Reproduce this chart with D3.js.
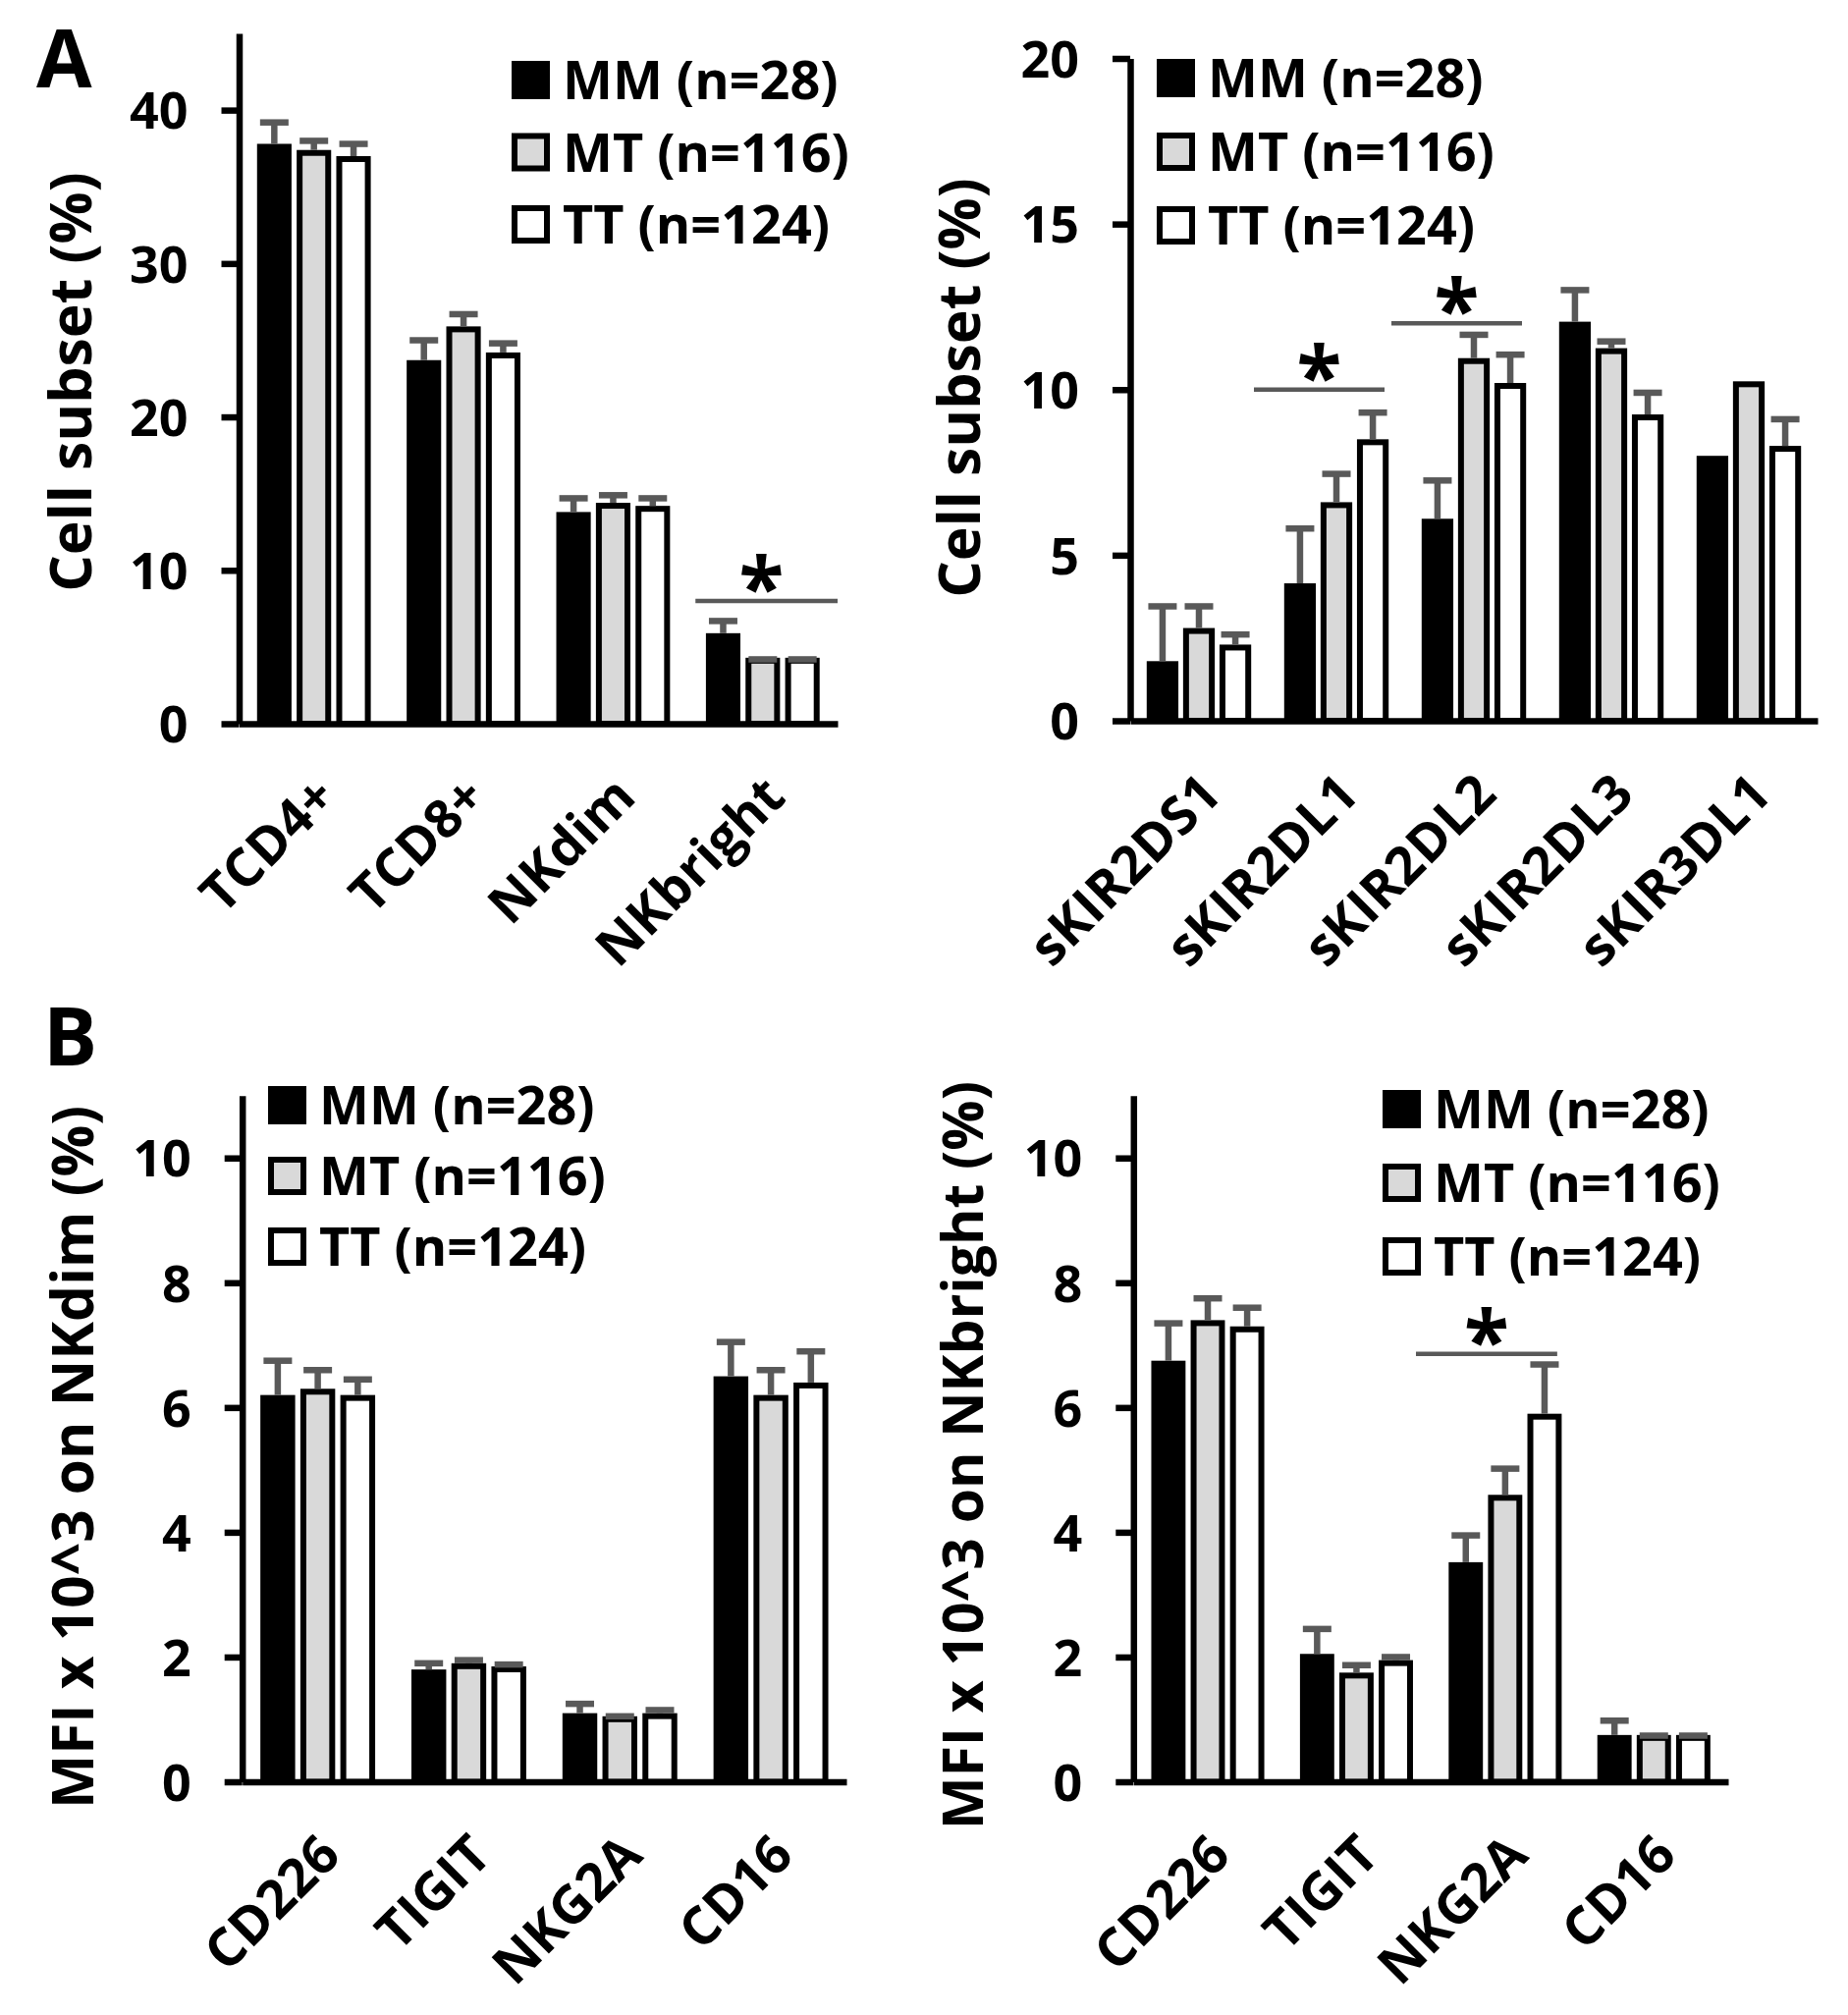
<!DOCTYPE html>
<html>
<head>
<meta charset="utf-8">
<script src="https://cdn.jsdelivr.net/npm/d3@7"></script>
<style>
  body { margin: 0; background: #fff; }
  svg { display: block; font-family: "Open Sans", "Noto Sans", sans-serif; font-weight: bold; }
</style>
</head>
<body>
<svg id="fig" width="1882" height="2052"></svg>
<script>
// genotype groups (legend)
const groups = ["MM (n=28)", "MT (n=116)", "TT (n=124)"];
const groupFill = ["#000000", "#d9d9d9", "#ffffff"];

// A left: cell subsets
const subsetCats = ["TCD4+", "TCD8+", "NKdim", "NKbright"];
const subsetMM = [37.8, 23.7, 13.8, 5.9];
const subsetMT = [37.4, 25.9, 14.4, 4.3];
const subsetTT = [37.0, 24.2, 14.2, 4.3];
const subsetMMErr = [1.6, 1.5, 1.1, 1.0];
const subsetMTErr = [0.8, 1.0, 0.7, 0.1];
const subsetTTErr = [1.0, 0.8, 0.7, 0.1];
const subsetTicks = [0, 10, 20, 30, 40];

// A right: sKIR
const kirCats = ["sKIR2DS1", "sKIR2DL1", "sKIR2DL2", "sKIR2DL3", "sKIR3DL1"];
const kirMM = [1.8, 4.15, 6.1, 12.05, 8.0];
const kirMT = [2.8, 6.6, 10.95, 11.25, 10.25];
const kirTT = [2.3, 8.5, 10.2, 9.25, 8.3];
const kirMMErr = [1.75, 1.75, 1.25, 1.05, 0];
const kirMTErr = [0.75, 0.95, 0.8, 0.3, 0];
const kirTTErr = [0.4, 0.9, 0.95, 0.75, 0.9];
const kirTicks = [0, 5, 10, 15, 20];
const kirSigCats = ["sKIR2DL1", "sKIR2DL2"];
const kirSigLevels = [10.0, 12.0];

// B: receptors on NK cells
const receptorCats = ["CD226", "TIGIT", "NKG2A", "CD16"];
const mfiTicks = [0, 2, 4, 6, 8, 10];

const dimMM = [6.2, 1.8, 1.1, 6.5];
const dimMT = [6.3, 1.9, 1.05, 6.2];
const dimTT = [6.2, 1.85, 1.1, 6.4];
const dimMMErr = [0.6, 0.15, 0.2, 0.6];
const dimMTErr = [0.35, 0.1, 0.05, 0.45];
const dimTTErr = [0.3, 0.08, 0.1, 0.55];

const brightMM = [6.75, 2.05, 3.52, 0.75];
const brightMT = [7.4, 1.75, 4.6, 0.75];
const brightTT = [7.3, 1.95, 5.9, 0.75];
const brightMMErr = [0.65, 0.45, 0.48, 0.28];
const brightMTErr = [0.4, 0.17, 0.47, 0.04];
const brightTTErr = [0.35, 0.1, 0.84, 0.04];

const errColor = "#595959";

const svg = d3.select("#fig");
svg.append("rect").attr("width", 1882).attr("height", 2052).attr("fill", "#fff");

function drawPanel(cfg) {
  const g = svg.append("g");

  const y = d3.scaleLinear().domain(cfg.yDomain).range([cfg.y0, cfg.yTop]);
  const x = d3.scaleBand().domain(cfg.cats).range([cfg.x0, cfg.x1]);
  const span = x.bandwidth() * 0.76;
  const inner = d3.scaleBand().domain([0, 1, 2]).range([0, span]).paddingInner(0.13);
  const off = (x.bandwidth() - span) / 2;

  // bars
  cfg.series.forEach((vals, k) => {
    g.selectAll(null)
      .data(vals.map((v, i) => ({ cat: cfg.cats[i], v: v, e: cfg.errs[k][i] })))
      .enter()
      .append("rect")
      .attr("x", (d) => x(d.cat) + off + inner(k) + 3)
      .attr("width", inner.bandwidth() - 6)
      .attr("y", (d) => y(d.v) + 3)
      .attr("height", (d) => cfg.y0 - y(d.v) - 3)
      .attr("fill", groupFill[k])
      .attr("stroke", "#000")
      .attr("stroke-width", 6);
  });

  // error bars (upper only)
  cfg.series.forEach((vals, k) => {
    const data = vals
      .map((v, i) => ({ cat: cfg.cats[i], v: v, e: cfg.errs[k][i] }))
      .filter((d) => d.e > 0);
    const cx = (d) => x(d.cat) + off + inner(k) + inner.bandwidth() / 2;
    g.selectAll(null)
      .data(data)
      .enter()
      .append("line")
      .attr("x1", cx)
      .attr("x2", cx)
      .attr("y1", (d) => y(d.v))
      .attr("y2", (d) => y(d.v + d.e) + 3)
      .attr("stroke", errColor)
      .attr("stroke-width", 6.5);
    g.selectAll(null)
      .data(data)
      .enter()
      .append("line")
      .attr("x1", (d) => cx(d) - 14.5)
      .attr("x2", (d) => cx(d) + 14.5)
      .attr("y1", (d) => y(d.v + d.e) + 3.2)
      .attr("y2", (d) => y(d.v + d.e) + 3.2)
      .attr("stroke", errColor)
      .attr("stroke-width", 6.5);
  });

  // y axis
  const yAxis = g
    .append("g")
    .attr("transform", `translate(${cfg.x0},0)`)
    .call(d3.axisLeft(y).tickValues(cfg.ticks).tickSize(18).tickSizeOuter(0).tickPadding(34));
  yAxis.selectAll("path, line").attr("stroke", "#000").attr("stroke-width", 6.5);
  yAxis.selectAll("text")
    .attr("font-size", 52)
    .attr("font-family", "Open Sans")
    .attr("font-weight", "bold")
    .attr("fill", "#000")
    .attr("dy", "0.36em");

  // x axis
  const xAxis = g
    .append("g")
    .attr("transform", `translate(0,${cfg.y0})`)
    .call(d3.axisBottom(x).tickSize(0).tickSizeOuter(0).tickPadding(0));
  xAxis.select("path").attr("stroke", "#000").attr("stroke-width", 6.5);
  xAxis.selectAll("text")
    .attr("font-size", 54)
    .attr("font-family", "Open Sans")
    .attr("font-weight", "bold")
    .attr("fill", "#000")
    .attr("text-anchor", "end")
    .attr("y", 0)
    .attr("dy", "0.35em")
    .attr("transform", "translate(12,64) rotate(-45)");

  // y title
  g.append("text")
    .attr("transform", `translate(${cfg.titleX},${cfg.titleY}) rotate(-90)`)
    .attr("text-anchor", "middle")
    .attr("font-size", cfg.titleSize)
    .text(cfg.title);

  // legend
  groups.forEach((name, k) => {
    const top = cfg.legY + k * cfg.legDy;
    g.append("rect")
      .attr("x", cfg.legX + 3)
      .attr("y", top + 3)
      .attr("width", 33)
      .attr("height", 33)
      .attr("fill", groupFill[k])
      .attr("stroke", "#000")
      .attr("stroke-width", 6);
    g.append("text")
      .attr("x", cfg.legX + 52)
      .attr("y", top + 39)
      .attr("font-size", 54)
      .text(name);
  });

  // significance marks
  (cfg.sigCats || []).forEach((c, i) => {
    const cx = x(c) + x.bandwidth() / 2 + (cfg.sigShift || 0) * x.bandwidth();
    const ly = y(cfg.sigLevels[i]);
    g.append("line")
      .attr("x1", cx - 0.5 * x.bandwidth())
      .attr("x2", cx + 0.45 * x.bandwidth())
      .attr("y1", ly)
      .attr("y2", ly)
      .attr("stroke", errColor)
      .attr("stroke-width", 4.5);
    g.append("text")
      .attr("x", cx - (cfg.starBack || 0.025) * x.bandwidth())
      .attr("y", ly + 16)
      .attr("text-anchor", "middle")
      .attr("font-size", 84)
      .text("*");
  });

  if (cfg.letter) {
    svg.append("text")
      .attr("x", cfg.letterX)
      .attr("y", cfg.letterY)
      .attr("font-size", 82)
      .text(cfg.letter);
  }
}

drawPanel({
  cats: subsetCats,
  series: [subsetMM, subsetMT, subsetTT],
  errs: [subsetMMErr, subsetMTErr, subsetTTErr],
  ticks: subsetTicks,
  yDomain: [0, 45],
  x0: 243.5, x1: 853, y0: 737, yTop: 34,
  title: "Cell subset (%)", titleX: 93, titleY: 389, titleSize: 59,
  legX: 521, legY: 62, legDy: 73.5,
  sigCats: ["NKbright"], sigLevels: [8.0], sigShift: 0.05, starBack: 0.06,
  letter: "A", letterX: 37, letterY: 89,
});

drawPanel({
  cats: kirCats,
  series: [kirMM, kirMT, kirTT],
  errs: [kirMMErr, kirMTErr, kirTTErr],
  ticks: kirTicks,
  yDomain: [0, 20],
  x0: 1151, x1: 1851, y0: 734, yTop: 59.5,
  title: "Cell subset (%)", titleX: 998, titleY: 395, titleSize: 59,
  legX: 1178, legY: 60, legDy: 75,
  sigCats: kirSigCats, sigLevels: kirSigLevels, sigShift: -0.1,
});

drawPanel({
  cats: receptorCats,
  series: [dimMM, dimMT, dimTT],
  errs: [dimMMErr, dimMTErr, dimTTErr],
  ticks: mfiTicks,
  yDomain: [0, 11],
  x0: 246.7, x1: 862, y0: 1814.5, yTop: 1115.7,
  title: "MFI x 10^3 on NKdim (%)", titleX: 95, titleY: 1484, titleSize: 58.5,
  legX: 273, legY: 1106, legDy: 72,
  letter: "B", letterX: 44, letterY: 1085,
});

drawPanel({
  cats: receptorCats,
  series: [brightMM, brightMT, brightTT],
  errs: [brightMMErr, brightMTErr, brightTTErr],
  ticks: mfiTicks,
  yDomain: [0, 11],
  x0: 1154.3, x1: 1760, y0: 1814.5, yTop: 1115.7,
  title: "MFI x 10^3 on NKbright (%)", titleX: 1001, titleY: 1482, titleSize: 57,
  legX: 1408, legY: 1110, legDy: 75,
  sigCats: ["NKG2A"], sigLevels: [6.86], sigShift: -0.1,
});
</script>
</body>
</html>
